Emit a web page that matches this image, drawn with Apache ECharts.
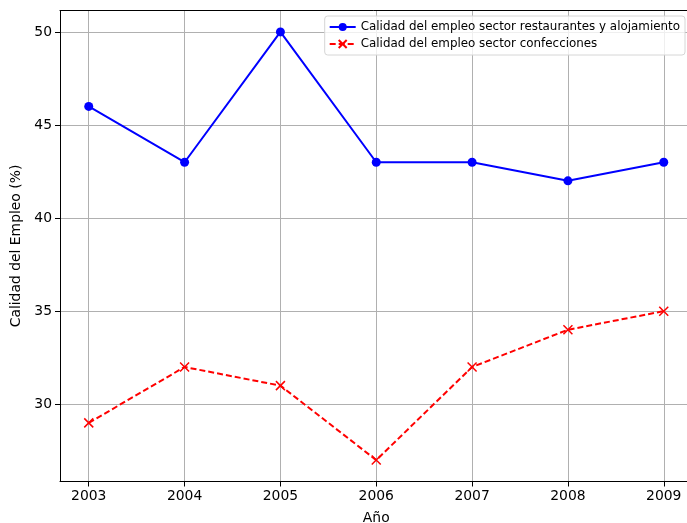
<!DOCTYPE html>
<html lang="es" style="height: 100%">
<head>
  <meta charset="utf-8">
</head>
<body style="height: 100%; margin: 0; background: #fff">
  <div id="container" style="width: 687px; height: 523px"></div>

  <script type="text/javascript" src="https://fastly.jsdelivr.net/npm/echarts@6/dist/echarts.min.js"></script>
  <script type="text/javascript">
    // datos
    var years = [2003, 2004, 2005, 2006, 2007, 2008, 2009];
    var restaurantes = [46, 43, 50, 43, 43, 42, 43];
    var confecciones = [29, 32, 31, 27, 32, 34, 35];
    var yTicks = [30, 35, 40, 45, 50];

    var dom = document.getElementById('container');
    var myChart = echarts.init(dom, null, { renderer: 'canvas' });

    var font = 'DejaVu Sans';

    function pairs(vals) {
      return years.map((y, i) => [y, vals[i]]);
    }

    var option = {
      backgroundColor: '#fff',
      animation: false,
      textStyle: { fontFamily: font },
      grid: {
        left: 60,
        top: 10.5,
        width: 632.5,
        height: 471,
        outerBoundsMode: 'none',
        containLabel: false,
        show: false
      },
      legend: {
        orient: 'vertical',
        right: 2,
        top: 16,
        padding: [5, 5, 5, 4],
        itemWidth: 26,
        itemHeight: 10,
        itemGap: 5,
        borderColor: '#d6d6d6',
        borderWidth: 1,
        borderRadius: 3,
        backgroundColor: 'rgba(255,255,255,0.8)',
        textStyle: { fontFamily: font, fontSize: 11.9, color: '#000' },
        data: [
          'Calidad del empleo sector restaurantes y alojamiento',
          'Calidad del empleo sector confecciones'
        ]
      },
      xAxis: [{
        type: 'value',
        min: 2002.7,
        max: 2009.3,
        name: 'Año',
        nameLocation: 'middle',
        nameGap: 30,
        nameTextStyle: { fontFamily: font, fontSize: 13.9, color: '#000' },
        axisLine: { show: true, onZero: false, lineStyle: { color: '#000', width: 1 } },
        axisTick: { show: true, length: 5, customValues: years, lineStyle: { color: '#000' } },
        axisLabel: {
          customValues: years,
          margin: 8,
          fontSize: 13.9,
          color: '#000',
          fontFamily: font,
          formatter: v => String(v)
        },
        splitLine: { show: true, lineStyle: { color: '#b0b0b0', width: 1 } }
      }, {
        // borde superior del área
        type: 'value',
        position: 'top',
        min: 2002.7,
        max: 2009.3,
        axisLine: { show: true, onZero: false, lineStyle: { color: '#000', width: 1 } },
        axisTick: { show: false },
        axisLabel: { show: false },
        splitLine: { show: false }
      }],
      yAxis: {
        type: 'value',
        min: 25.85,
        max: 51.15,
        name: 'Calidad del Empleo (%)',
        nameLocation: 'middle',
        nameGap: 34,
        nameTextStyle: { fontFamily: font, fontSize: 13.9, color: '#000' },
        axisLine: { show: true, onZero: false, lineStyle: { color: '#000', width: 1 } },
        axisTick: { show: true, length: 5, customValues: yTicks, lineStyle: { color: '#000' } },
        axisLabel: {
          customValues: yTicks,
          margin: 8,
          fontSize: 13.9,
          color: '#000',
          fontFamily: font
        },
        splitLine: { show: true, lineStyle: { color: '#b0b0b0', width: 1 } }
      },
      series: [
        {
          name: 'Calidad del empleo sector restaurantes y alojamiento',
          type: 'line',
          data: pairs(restaurantes),
          symbol: 'circle',
          symbolSize: 9,
          itemStyle: { color: '#0000ff' },
          lineStyle: { color: '#0000ff', width: 2 }
        },
        {
          name: 'Calidad del empleo sector confecciones',
          type: 'line',
          data: pairs(confecciones),
          symbol: 'path://M0,0 L10,10 M10,0 L0,10',
          symbolSize: 9,
          itemStyle: { color: '#ff0000', borderColor: '#ff0000', borderWidth: 1.5 },
          lineStyle: { color: '#ff0000', width: 2, type: [6, 3] }
        }
      ]
    };

    myChart.setOption(option);
    window.addEventListener('resize', myChart.resize);
  </script>
</body>
</html>
